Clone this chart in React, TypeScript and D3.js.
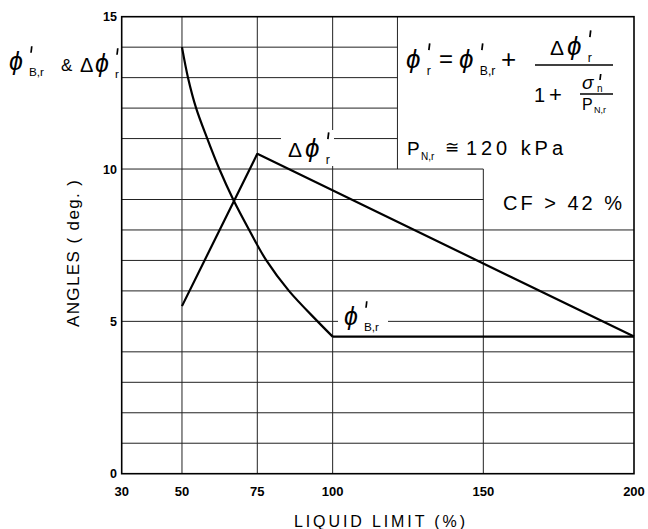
import * as d3 from "d3";

// liquid limit (%) vs residual friction angle components (deg.)
const xTicks = [30, 50, 75, 100, 150, 200];
const yTicks = [0, 5, 10, 15];
const hGrid = [1, 2, 3, 4, 5, 6, 7, 8, 9, 10, 11, 12, 13, 14];
const vGrid = [50, 75, 100];

// phi'B,r curve (curved part, then flat)
const phiBLL = [50, 52, 54.7, 58.4, 62.4, 67, 72.3, 78, 85.5, 95, 100];
const phiBVal = [14, 13, 12, 11, 10, 9, 8, 7, 6, 5, 4.5];
const phiBFlatLL = [100, 200];
const phiBFlatVal = [4.5, 4.5];

// delta phi'r
const deltaLL = [50, 75, 200];
const deltaVal = [5.5, 10.5, 4.5];

// formula box outline (data units)
const boxLeftLL = 121.5;
const boxStepLL = 150;
const boxStepVal = 10;
const boxBottomVal = 8;

const W = 648;
const H = 529;
const FONT = "'Liberation Sans', Arial, Helvetica, sans-serif";

const x = d3.scaleLinear().domain([30, 200]).range([121.7, 634]);
const y = d3.scaleLinear().domain([0, 15]).range([473.7, 16.7]);

function Prime({ px, py, h }: { px: number; py: number; h: number }) {
  return <line x1={px + h * 0.12} x2={px} y1={py} y2={py + h} stroke="#000" strokeWidth={1.7} />;
}

function PhiSym({ px, py, fs, sub }: { px: number; py: number; fs: number; sub: string }) {
  return (
    <g>
      <text x={px} y={py} fontSize={fs} fontStyle="italic">
        ϕ
      </text>
      <Prime px={px + fs * 0.88} py={py - fs * 0.95} h={fs * 0.26} />
      <text x={px + fs * 0.8} y={py + fs * 0.25} fontSize={fs * 0.47}>
        {sub}
      </text>
    </g>
  );
}

export default function App() {
  const left = x(30);
  const right = x(200);
  const line = d3
    .line<number>()
    .x((_, i) => x(phiBLL[i]))
    .y((d) => y(d))
    .curve(d3.curveCatmullRom.alpha(0.5));
  const flat = d3
    .line<number>()
    .x((_, i) => x(phiBFlatLL[i]))
    .y((d) => y(d));
  const delta = d3
    .line<number>()
    .x((_, i) => x(deltaLL[i]))
    .y((d) => y(d));

  const hEnd = (v: number) => {
    if (v > boxStepVal) return x(boxLeftLL);
    if (v > boxBottomVal) return x(boxStepLL);
    return right;
  };

  return (
    <svg
      width={W}
      height={H}
      style={{ position: "absolute", left: 0, top: 0, background: "#fff" }}
      fontFamily={FONT}
    >
      {/* grid */}
      <g stroke="#222" strokeWidth={1}>
        {hGrid.map((v) => (
          <line key={"h" + v} x1={left} x2={hEnd(v)} y1={y(v)} y2={y(v)} />
        ))}
        {vGrid.map((v) => (
          <line key={"v" + v} x1={x(v)} x2={x(v)} y1={y(0)} y2={y(15)} />
        ))}
        <line x1={x(boxStepLL)} x2={x(boxStepLL)} y1={y(0)} y2={y(boxStepVal)} />
        <line x1={x(boxLeftLL)} x2={x(boxLeftLL)} y1={y(15)} y2={y(boxStepVal)} />
      </g>
      <rect x={left} y={y(15)} width={right - left} height={y(0) - y(15)} fill="none" stroke="#000" strokeWidth={1.6} />

      {/* label backgrounds */}
      <rect x={281} y={130} width={53} height={36} fill="#fff" />
      <rect x={338} y={296} width={50} height={38} fill="#fff" />

      {/* curves */}
      <g fill="none" stroke="#000" strokeWidth={2.2} strokeLinejoin="round">
        <path d={line(phiBVal) ?? ""} />
        <path d={flat(phiBFlatVal) ?? ""} />
        <path d={delta(deltaVal) ?? ""} />
      </g>

      {/* ticks */}
      {xTicks.map((t) => (
        <text key={"xt" + t} x={x(t)} y={496} textAnchor="middle" fontSize={13} fontWeight="bold">
          {t}
        </text>
      ))}
      {yTicks.map((t) => (
        <text key={"yt" + t} x={117} y={y(t) + 4.5} textAnchor="end" fontSize={12.5} fontWeight="bold">
          {t}
        </text>
      ))}

      {/* axis titles */}
      <text x={294} y={527} fontSize={16} textLength={171} lengthAdjust="spacing">
        LIQUID LIMIT (%)
      </text>
      <text transform="translate(79,327) rotate(-90)" fontSize={17} textLength={147} lengthAdjust="spacing">
        ANGLES ( deg. )
      </text>

      {/* top-left label */}
      <PhiSym px={9} py={70} fs={25} sub="B,r" />
      <text x={61} y={71} fontSize={17}>&amp;</text>
      <text x={80} y={72} fontSize={20}>Δ</text>
      <PhiSym px={95} py={72} fs={25} sub="r" />

      {/* curve labels */}
      <text x={288} y={157} fontSize={21}>Δ</text>
      <PhiSym px={305} py={157} fs={26} sub="r" />
      <PhiSym px={344} py={325} fs={25} sub="B,r" />

      {/* formula */}
      <PhiSym px={406} py={68} fs={26} sub="r" />
      <text x={439} y={67} fontSize={24}>=</text>
      <PhiSym px={459} py={68} fs={26} sub="B,r" />
      <text x={501} y={68} fontSize={26}>+</text>
      <line x1={535} x2={613} y1={65} y2={65} stroke="#000" strokeWidth={1.5} />
      <text x={550} y={55} fontSize={21}>Δ</text>
      <PhiSym px={567} py={55} fs={26} sub="r" />
      <text x={534} y={102} fontSize={20}>1</text>
      <text x={549} y={102} fontSize={22}>+</text>
      <line x1={580} x2={613} y1={94} y2={94} stroke="#000" strokeWidth={1.3} />
      <text x={582} y={89} fontSize={19} fontStyle="italic">σ</text>
      <Prime px={600} py={74} h={6} />
      <text x={597} y={92} fontSize={10}>n</text>
      <text x={582} y={110} fontSize={16}>P</text>
      <text x={594} y={113} fontSize={9}>N,r</text>

      <text x={407} y={155} fontSize={19}>P</text>
      <text x={421} y={160} fontSize={10}>N,r</text>
      <text x={445} y={153} fontSize={17}>≅</text>
      <text x={466} y={155} fontSize={20} textLength={97} lengthAdjust="spacing">
        120 kPa
      </text>
      <text x={503} y={210} fontSize={20} textLength={119} lengthAdjust="spacing">
        CF &gt; 42 %
      </text>
    </svg>
  );
}
